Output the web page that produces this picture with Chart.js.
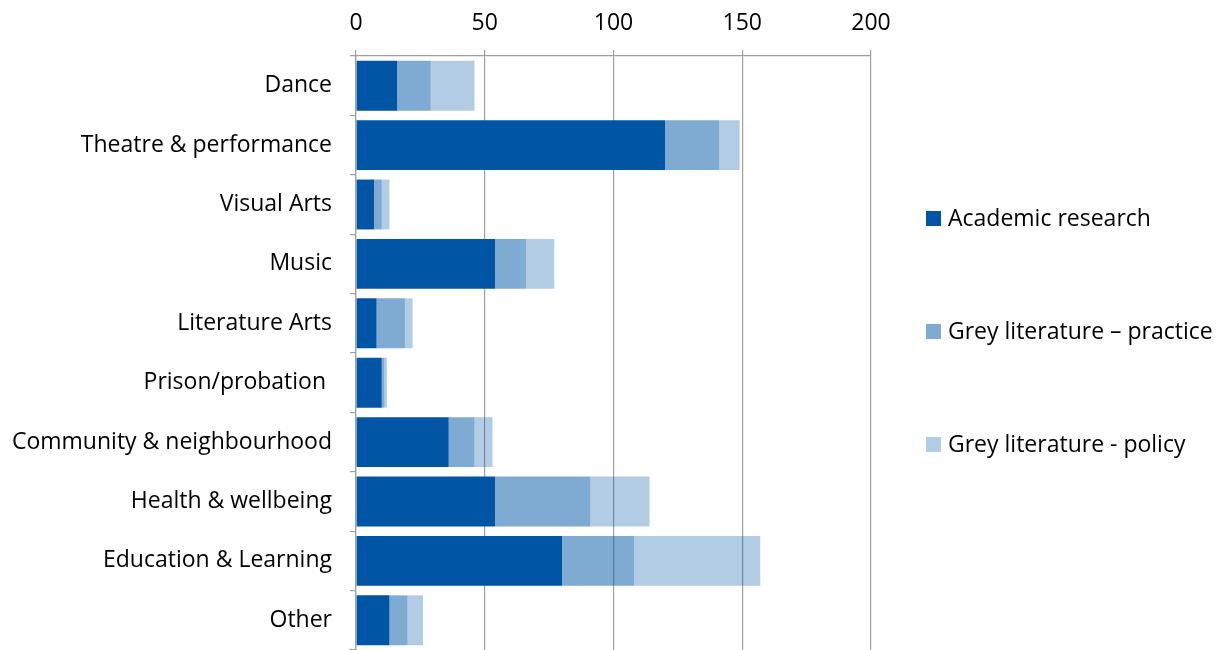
<!DOCTYPE html>
<html><head><meta charset="utf-8">
<script src="https://cdn.jsdelivr.net/npm/chart.js@4"></script>
<style>html,body{margin:0;padding:0;background:#fff}#wrap{width:1229px;height:650px}</style>
</head><body><div id="wrap"><canvas id="c" width="1229" height="650"></canvas></div>
<script>
const categories = ["Dance","Theatre & performance","Visual Arts","Music","Literature Arts","Prison/probation ","Community & neighbourhood","Health & wellbeing","Education & Learning","Other"];
const seriesNames = ["Academic research","Grey literature \u2013 practice","Grey literature - policy"];
const academic = [16,120,7,54,8,10,36,54,80,13];
const practice = [13,21,3,12,11,1,10,37,28,7];
const policy   = [17,8,3,11,3,1,7,23,49,6];
const xTicks = [0,50,100,150,200];

const FONT = 'Open Sans';
const FSIZE = 23;
const colors = ['rgba(0,85,164,1)','rgba(0,85,164,0.5)','rgba(0,85,164,0.3)'];

const sideLegend = {
  id: 'sideLegend',
  afterDraw(chart) {
    const ctx = chart.ctx, a = chart.chartArea;
    const x = a.right + 55, midY = chart.height / 2 + 6, gap = 113;
    ctx.save();
    chart.data.datasets.forEach((ds, i) => {
      const y = midY + (i - 1) * gap;
      ctx.fillStyle = ds.backgroundColor;
      ctx.fillRect(x, y - 7, 15, 15);
      ctx.fillStyle = '#000';
      ctx.font = FSIZE + 'px "' + FONT + '"';
      ctx.textBaseline = 'middle';
      ctx.textAlign = 'left';
      ctx.fillText(ds.label, x + 22, y + 1);
    });
    ctx.restore();
  }
};

new Chart(document.getElementById('c'), {
  type: 'bar',
  data: {
    labels: categories,
    datasets: [
      {label: seriesNames[0], data: academic, backgroundColor: colors[0]},
      {label: seriesNames[1], data: practice, backgroundColor: colors[1]},
      {label: seriesNames[2], data: policy, backgroundColor: colors[2]}
    ]
  },
  options: {
    indexAxis: 'y',
    responsive: false,
    animation: false,
    layout: {padding: {left: 0, right: 358, top: 0, bottom: -4}},
    datasets: {bar: {barPercentage: 0.84, categoryPercentage: 1, borderWidth: 0}},
    plugins: {legend: {display: false}, tooltip: {enabled: false}},
    scales: {
      x: {
        position: 'top', stacked: true, min: 0, max: 200,
        afterBuildTicks(s) { s.ticks = xTicks.map(v => ({value: v})); },
        afterFit(s) { s.height = 56; },
        ticks: {font: {family: FONT, size: FSIZE}, color: '#000', padding: 13},
        grid: {color: '#a0a0a0', lineWidth: 1.2, tickLength: 6, drawTicks: true},
        border: {color: '#a0a0a0', width: 1.2}
      },
      y: {
        stacked: true,
        afterFit(s) { s.width = 356; s.paddingTop = 0; s.paddingBottom = 0; },
        ticks: {font: {family: FONT, size: FSIZE}, color: '#000', padding: 18},
        grid: {color: '#a0a0a0', lineWidth: 1.2, drawOnChartArea: false, tickLength: 6, offset: true},
        border: {color: '#a0a0a0', width: 1.2}
      }
    }
  },
  plugins: [sideLegend]
});
</script>
</body></html>
